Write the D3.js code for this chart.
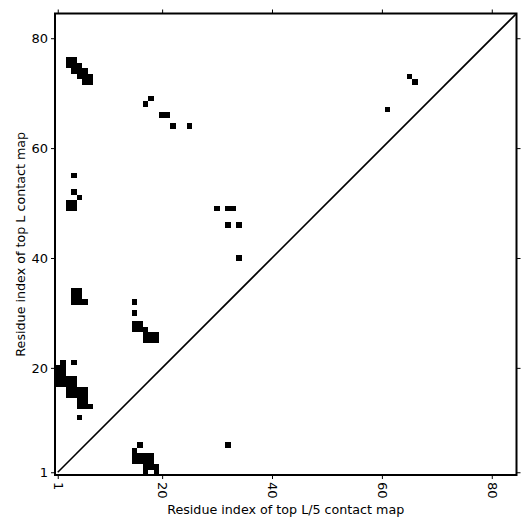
<!DOCTYPE html>
<html>
<head>
<meta charset="utf-8">
<script src="https://cdn.jsdelivr.net/npm/d3@7"></script>
<style>
  body { margin: 0; background: #fff; }
  text { font-family: "DejaVu Sans", sans-serif; }
</style>
</head>
<body>
<svg id="chart" width="531" height="531"></svg>
<script>
// sequence length and tick labels
const seqLen = 84;
const tickVals = [1, 20, 40, 60, 80];

// top L contacts (upper triangle), [residue on x, residue on y]
const topLContacts = [
  [3,76],[4,76],
  [3,75],[4,75],[5,75],
  [4,74],[5,74],[6,74],
  [5,73],[6,73],[7,73],
  [6,72],[7,72],
  [17,68],[18,69],[20,66],[21,66],[22,64],[25,64],
  [65,73],[66,72],[61,67],
  [4,55],
  [4,52],[5,51],[3,50],[4,50],[3,49],[4,49],
  [30,49],[32,49],[33,49],[32,46],[34,46],[34,40],
  [4,34],[5,34],[4,33],[5,33],[4,32],[5,32],[6,32],
  [15,32],[15,30],
  [15,28],[16,28],[15,27],[16,27],[17,27],[17,26],[18,26],[19,26],[17,25],[18,25],[19,25],
  [2,21],[4,21],
  [1,20],[2,20],[1,19],[2,19],[1,18],[2,18],[3,18],[4,18],[1,17],[2,17],[3,17],[4,17],
  [3,16],[4,16],[5,16],[6,16],[3,15],[4,15],[5,15],[6,15],
  [5,14],[6,14],[5,13],[6,13],[7,13],
  [5,11]
];

// top L/5 contacts (lower triangle)
const topL5Contacts = [
  [16,6],[32,6],
  [15,5],
  [15,4],[16,4],[17,4],[18,4],
  [15,3],[16,3],[17,3],[18,3],
  [17,2],[18,2],[19,2],
  [17,1],[19,1]
];

const svg = d3.select("#chart");
const mLeft = 55, mRight = 516.5, mTop = 13.5, mBottom = 475;

const x = d3.scaleLinear().domain([0.5, seqLen + 0.5]).range([mLeft, mRight]);
const y = d3.scaleLinear().domain([0.5, seqLen + 0.5]).range([mBottom, mTop]);
const cw = x(2) - x(1);
const ch = y(1) - y(2);

svg.append("clipPath").attr("id", "clip")
  .append("rect")
  .attr("x", mLeft).attr("y", mTop)
  .attr("width", mRight - mLeft).attr("height", mBottom - mTop);

const plot = svg.append("g").attr("clip-path", "url(#clip)");

plot.selectAll(".cell")
  .data(topLContacts.concat(topL5Contacts))
  .enter()
  .append("rect")
  .attr("class", "cell")
  .attr("x", d => x(d[0] - 0.5))
  .attr("y", d => y(d[1] + 0.5))
  .attr("width", cw)
  .attr("height", ch)
  .attr("fill", "#000")
  .attr("shape-rendering", "crispEdges");

// diagonal
plot.append("line")
  .attr("x1", x(1)).attr("y1", y(1))
  .attr("x2", x(seqLen + 0.5)).attr("y2", y(seqLen + 0.5))
  .attr("stroke", "#000")
  .attr("stroke-width", 1.6);

// axes
const xAxis = svg.append("g")
  .attr("transform", `translate(0,${mBottom})`)
  .call(d3.axisBottom(x).tickValues(tickVals).tickSize(4).tickSizeOuter(0));
xAxis.select(".domain").remove();
xAxis.selectAll("text")
  .attr("transform", "rotate(90)")
  .attr("x", 7).attr("y", 0).attr("dy", "0.35em")
  .attr("text-anchor", "start")
  .attr("font-size", 13).attr("fill", "#000");

const yAxis = svg.append("g")
  .attr("transform", `translate(${mLeft},0)`)
  .call(d3.axisLeft(y).tickValues(tickVals).tickSize(4).tickSizeOuter(0));
yAxis.select(".domain").remove();
yAxis.selectAll("text").attr("font-size", 13).attr("fill", "#000");

const xTop = svg.append("g")
  .attr("transform", `translate(0,${mTop})`)
  .call(d3.axisTop(x).tickValues(tickVals).tickSize(4).tickFormat(""));
xTop.select(".domain").remove();

const yRight = svg.append("g")
  .attr("transform", `translate(${mRight},0)`)
  .call(d3.axisRight(y).tickValues(tickVals).tickSize(4).tickFormat(""));
yRight.select(".domain").remove();

// frame
svg.append("rect")
  .attr("x", mLeft).attr("y", mTop)
  .attr("width", mRight - mLeft).attr("height", mBottom - mTop)
  .attr("fill", "none")
  .attr("stroke", "#000")
  .attr("stroke-width", 2);

svg.append("text")
  .attr("x", (mLeft + mRight) / 2).attr("y", 514)
  .attr("text-anchor", "middle")
  .attr("font-size", 12.7)
  .text("Residue index of top L/5 contact map");

svg.append("text")
  .attr("transform", `translate(25,${(mTop + mBottom) / 2}) rotate(-90)`)
  .attr("text-anchor", "middle")
  .attr("font-size", 12.7)
  .text("Residue index of top L contact map");
</script>
</body>
</html>
